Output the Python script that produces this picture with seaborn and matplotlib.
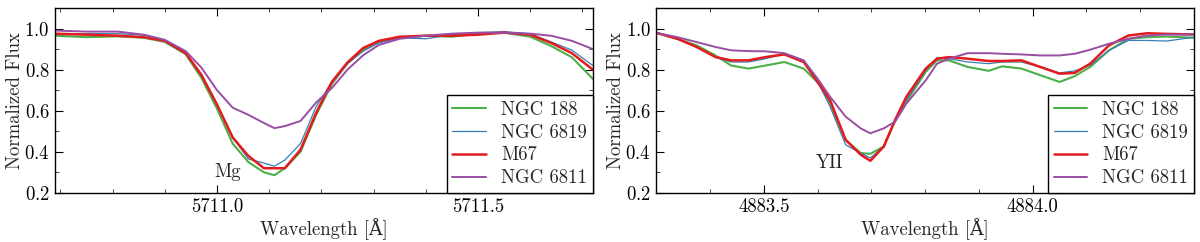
import matplotlib
matplotlib.use("Agg")
import matplotlib.pyplot as plt
from matplotlib.ticker import MultipleLocator
import pandas as pd
import seaborn as sns

# style classique : ticks vers l'interieur sur les 4 cotes
sns.set_theme(style="ticks")
plt.rcParams["font.family"] = ["cmr10", "DejaVu Serif"]
plt.rcParams["mathtext.fontset"] = "cm"
plt.rcParams["axes.formatter.use_mathtext"] = True
plt.rcParams["xtick.direction"] = "in"
plt.rcParams["ytick.direction"] = "in"
plt.rcParams["xtick.top"] = True
plt.rcParams["ytick.right"] = True

clusters = ["NGC 188", "NGC 6819", "M67", "NGC 6811"]
couleurs = ["#4daf4a", "#377eb8", "#e41a1c", "#984ea3"]
epaisseurs = [1.5, 0.9, 1.8, 1.4]

# raie du Mg
wl_mg = [5710.69, 5710.75, 5710.81, 5710.86, 5710.90, 5710.94, 5710.97, 5711.00,
         5711.03, 5711.06, 5711.09, 5711.11, 5711.13, 5711.16, 5711.19, 5711.22,
         5711.25, 5711.28, 5711.31, 5711.35, 5711.40, 5711.45, 5711.50, 5711.55,
         5711.60, 5711.64, 5711.68, 5711.72]
mg_ngc188 = [0.965, 0.958, 0.962, 0.955, 0.935, 0.875, 0.76, 0.61, 0.44, 0.35, 0.30, 0.286,
             0.32, 0.40, 0.58, 0.73, 0.83, 0.895, 0.935, 0.955, 0.965, 0.96, 0.975, 0.98,
             0.96, 0.915, 0.86, 0.755]
mg_ngc6819 = [0.97, 0.975, 0.975, 0.968, 0.94, 0.88, 0.775, 0.63, 0.47, 0.365, 0.345, 0.33,
              0.36, 0.44, 0.62, 0.74, 0.83, 0.89, 0.93, 0.955, 0.95, 0.97, 0.98, 0.985,
              0.975, 0.935, 0.895, 0.82]
mg_m67 = [0.975, 0.97, 0.965, 0.958, 0.94, 0.88, 0.775, 0.63, 0.47, 0.38, 0.32, 0.32,
          0.32, 0.41, 0.59, 0.74, 0.835, 0.905, 0.94, 0.96, 0.965, 0.965, 0.97, 0.98,
          0.97, 0.93, 0.88, 0.80]
mg_ngc6811 = [0.99, 0.985, 0.985, 0.97, 0.945, 0.89, 0.81, 0.70, 0.615, 0.58, 0.54, 0.515,
              0.525, 0.55, 0.64, 0.71, 0.80, 0.87, 0.92, 0.95, 0.965, 0.975, 0.98, 0.98,
              0.975, 0.965, 0.94, 0.90]

# raie de YII
wl_y = [4883.300, 4883.339, 4883.375, 4883.410, 4883.439, 4883.471, 4883.503, 4883.538,
        4883.574, 4883.602, 4883.623, 4883.652, 4883.680, 4883.698, 4883.723, 4883.744,
        4883.765, 4883.801, 4883.822, 4883.844, 4883.879, 4883.918, 4883.943, 4883.979,
        4884.014, 4884.050, 4884.078, 4884.107, 4884.142, 4884.178, 4884.213, 4884.249,
        4884.300]
y_ngc188 = [0.979, 0.95, 0.918, 0.869, 0.82, 0.805, 0.82, 0.837, 0.805, 0.732, 0.635, 0.458,
            0.394, 0.39, 0.426, 0.55, 0.644, 0.789, 0.845, 0.845, 0.813, 0.794, 0.816, 0.805,
            0.773, 0.74, 0.768, 0.813, 0.894, 0.95, 0.958, 0.961, 0.955]
y_ngc6819 = [0.979, 0.95, 0.91, 0.861, 0.837, 0.837, 0.853, 0.877, 0.845, 0.732, 0.62, 0.434,
             0.394, 0.37, 0.426, 0.555, 0.652, 0.797, 0.858, 0.853, 0.837, 0.829, 0.837, 0.837,
             0.813, 0.784, 0.794, 0.821, 0.894, 0.942, 0.942, 0.939, 0.958]
y_m67 = [0.979, 0.95, 0.91, 0.861, 0.845, 0.845, 0.861, 0.874, 0.837, 0.732, 0.652, 0.458,
         0.386, 0.356, 0.426, 0.555, 0.668, 0.805, 0.853, 0.861, 0.853, 0.842, 0.842, 0.845,
         0.813, 0.78, 0.784, 0.829, 0.918, 0.966, 0.977, 0.974, 0.971]
y_ngc6811 = [0.979, 0.958, 0.934, 0.91, 0.894, 0.89, 0.889, 0.88, 0.845, 0.748, 0.668, 0.571,
             0.514, 0.49, 0.514, 0.547, 0.635, 0.748, 0.829, 0.853, 0.88, 0.88, 0.877, 0.874,
             0.869, 0.869, 0.877, 0.897, 0.926, 0.95, 0.966, 0.971, 0.971]

panneaux = [
    (wl_mg, [mg_ngc188, mg_ngc6819, mg_m67, mg_ngc6811], "Mg", (5711.02, 0.30), (5710.69, 5711.72), 5711.0),
    (wl_y, [y_ngc188, y_ngc6819, y_m67, y_ngc6811], "YII", (4883.622, 0.345), (4883.30, 4884.30), 4883.5),
]

fig = plt.figure(figsize=(12, 2.42), dpi=100)
positions = [[0.046, 0.203, 0.448, 0.764], [0.547, 0.203, 0.448, 0.764]]

for pos, (wl, flux, raie, pos_txt, xlim, x0) in zip(positions, panneaux):
    ax = fig.add_axes(pos)
    for nom, f, c, lw in zip(clusters, flux, couleurs, epaisseurs):
        df = pd.DataFrame({"wl": wl, "flux": f})
        sns.lineplot(data=df, x="wl", y="flux", color=c, linewidth=lw, label=nom,
                     sort=False, estimator=None, ax=ax)
    ax.text(pos_txt[0], pos_txt[1], raie, ha="center", va="center", fontsize=13.5)
    ax.set_xlim(*xlim)
    ax.set_ylim(0.2, 1.1)
    ax.set_xticks([x0, x0 + 0.5])
    ax.set_xticklabels([f"{x0:.1f}", f"{x0 + 0.5:.1f}"])
    ax.xaxis.set_minor_locator(MultipleLocator(0.1))
    ax.set_yticks([0.2, 0.4, 0.6, 0.8, 1.0])
    ax.yaxis.set_minor_locator(MultipleLocator(0.1))
    ax.tick_params(which="major", length=6, width=0.8, labelsize=13.5, colors="black", pad=4)
    ax.tick_params(which="minor", length=3, width=0.6)
    for s in ax.spines.values():
        s.set_color("black")
        s.set_linewidth(1.0)
    ax.set_xlabel("Wavelength [Å]", fontsize=13.5, labelpad=1)
    ax.set_ylabel("Normalized Flux", fontsize=13.5, labelpad=0)
    leg = ax.legend(loc="lower right", borderaxespad=0, fontsize=13.5, fancybox=False,
                    framealpha=1, edgecolor="black", handlelength=1.8, labelspacing=0.26,
                    borderpad=0.3, handletextpad=0.8)
    leg.get_frame().set_linewidth(1.0)

fig.savefig("out.png", dpi=100)
